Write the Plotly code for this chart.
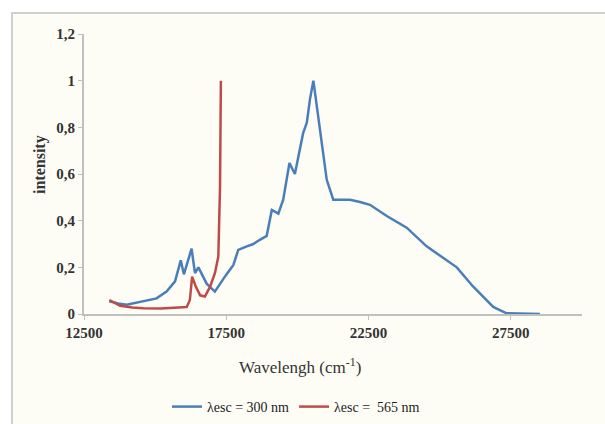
import plotly.graph_objects as go

# λesc = 300 nm series
blue_x = [13390, 13700, 14000, 14400, 14700, 15050, 15400, 15700, 15900, 16010, 16280, 16400,
          16520, 16810, 17100, 17280, 17450, 17750, 17920, 18220, 18450, 18680, 18920, 19100,
          19330, 19500, 19720, 19910, 20090, 20200, 20330, 20440, 20560, 20790, 21030, 21260,
          21850, 22200, 22550, 23140, 23840, 24540, 25130, 25600, 26180, 26880, 27350, 28520]
blue_y = [0.055, 0.045, 0.04, 0.05, 0.06, 0.067, 0.096, 0.14, 0.23, 0.17, 0.28, 0.175,
          0.2, 0.13, 0.096, 0.13, 0.16, 0.21, 0.275, 0.29, 0.30, 0.318, 0.335, 0.446,
          0.43, 0.49, 0.647, 0.60, 0.70, 0.775, 0.82, 0.92, 1.0, 0.79, 0.575, 0.49,
          0.49, 0.48, 0.468, 0.42, 0.37, 0.29, 0.24, 0.20, 0.117, 0.03, 0.003, 0.0]

# λesc = 565 nm series
red_x = [13390, 13770, 14200, 14580, 15200, 15800, 16110, 16220, 16300, 16420, 16580, 16750,
         16930, 17100, 17220, 17280, 17310]
red_y = [0.06, 0.035, 0.028, 0.025, 0.024, 0.026, 0.03, 0.06, 0.16, 0.12, 0.08, 0.075,
         0.117, 0.175, 0.246, 0.546, 1.0]

x_ticks = [12500, 17500, 22500, 27500]
y_ticks = [0, 0.2, 0.4, 0.6, 0.8, 1.0, 1.2]
y_tick_labels = ["0", "0,2", "0,4", "0,6", "0,8", "1", "1,2"]

W, H = 605, 424
L, R, T, B = 84, 23, 34, 110
pw, ph = W - L - R, H - T - B

def px(x):
    return (x - L) / pw

def py(y):
    return (H - B - y) / ph

fig = go.Figure()
fig.add_trace(go.Scatter(x=blue_x, y=blue_y, mode="lines", name="λesc = 300 nm",
                         line=dict(color="#4a7ebb", width=2.5)))
fig.add_trace(go.Scatter(x=red_x, y=red_y, mode="lines", name="λesc =  565 nm",
                         line=dict(color="#be4b48", width=2.5)))

serif = "Liberation Serif"
fig.update_layout(
    width=W, height=H,
    margin=dict(l=L, r=R, t=T, b=B, autoexpand=False),
    paper_bgcolor="white",
    plot_bgcolor="rgba(0,0,0,0)",
    showlegend=True,
    legend=dict(orientation="h", x=px(296), xanchor="center", y=py(407), yanchor="middle",
                font=dict(family=serif, size=14, color="#222"), bgcolor="rgba(0,0,0,0)",
                itemwidth=30, tracegroupgap=0),
    shapes=[dict(type="rect", xref="paper", yref="paper",
                 x0=px(12), x1=px(660), y0=py(480), y1=py(13),
                 fillcolor="#fdfdf5", line=dict(color="#d0d0d0", width=2), layer="below")],
    annotations=[
        dict(text="Wavelengh (cm<sup>-1</sup>)", xref="paper", yref="paper", x=px(300), y=py(366),
             showarrow=False, font=dict(family=serif, size=17, color="#333"), xanchor="center", yanchor="middle"),
        dict(text="<b>intensity</b>", xref="paper", yref="paper", x=px(40), y=py(165), textangle=-90,
             showarrow=False, font=dict(family=serif, size=16, color="#333"), xanchor="center", yanchor="middle"),
    ],
)
fig.update_xaxes(range=[12500, 30000], tickvals=x_ticks, ticktext=[f"<b>{v}</b>" for v in x_ticks],
                 showgrid=False, zeroline=False, showline=True, linecolor="#c0c0c0", linewidth=2,
                 ticks="outside", ticklen=4, tickcolor="#c0c0c0",
                 tickfont=dict(family=serif, size=15, color="#333"))
fig.update_yaxes(range=[0, 1.2], tickvals=y_ticks, ticktext=[f"<b>{t}</b>" for t in y_tick_labels],
                 showgrid=False, zeroline=False, showline=True, linecolor="#c0c0c0", linewidth=2,
                 ticks="outside", ticklen=4, tickcolor="#c0c0c0",
                 tickfont=dict(family=serif, size=15, color="#333"))

fig.write_html("out.html")
